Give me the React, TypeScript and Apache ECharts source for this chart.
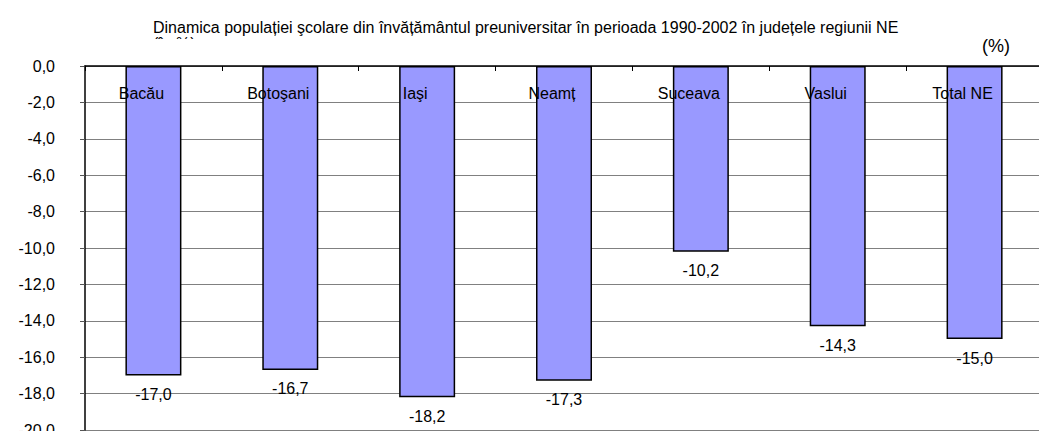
import React, { useEffect, useRef } from "react";
import * as echarts from "echarts";

const categories = ["Bacău", "Botoşani", "Iaşi", "Neamț", "Suceava", "Vaslui", "Total NE"];
const values = [-17.0, -16.7, -18.2, -17.3, -10.2, -14.3, -15.0];
const titleLine1 = "Dinamica populației şcolare din învățământul preuniversitar în perioada 1990-2002 în județele regiunii NE";
const titleLine2 = "(în %)";
const unitLabel = "(%)";

const FONT = 'Arial, "Liberation Sans", sans-serif';
const fmt = (v: number) => v.toFixed(1).replace(".", ",");

export default function App() {
  const ref = useRef<HTMLDivElement>(null);
  useEffect(() => {
    if (!ref.current) return;
    const chart = echarts.init(ref.current, null, { renderer: "svg" });
    chart.setOption({
      animation: false,
      backgroundColor: "#ffffff",
      textStyle: { fontFamily: FONT },
      grid: {
        left: 85,
        top: 66,
        width: 958,
        height: 364,
        containLabel: false,
        outerBoundsMode: "none",
      },
      xAxis: {
        type: "category",
        position: "top",
        data: categories,
        axisLine: { show: true, lineStyle: { color: "#000", width: 1.5 } },
        axisTick: { show: true, inside: true, length: 5, lineStyle: { color: "#000", width: 1 } },
        axisLabel: {
          inside: true,
          margin: 19,
          fontSize: 16,
          color: "#000",
          fontFamily: FONT,
          padding: [0, 24, 0, 0],
        },
        splitLine: { show: false },
        z: 10,
      },
      yAxis: {
        type: "value",
        min: -20,
        max: 0,
        interval: 2,
        axisLine: { show: true, lineStyle: { color: "#000", width: 1.5 } },
        axisTick: { show: true, inside: false, length: 5, lineStyle: { color: "#555", width: 1 } },
        axisLabel: {
          margin: 30,
          fontSize: 16,
          color: "#000",
          fontFamily: FONT,
          formatter: (v: number) => fmt(v),
        },
        splitLine: { show: true, lineStyle: { color: "#808080", width: 1 } },
      },
      series: [
        {
          type: "bar",
          data: values,
          barWidth: 56,
          itemStyle: { color: "#9999FF", borderColor: "#000", borderWidth: 1.5 },
          label: {
            show: true,
            position: "bottom",
            distance: 11,
            fontSize: 16,
            color: "#000",
            fontFamily: FONT,
            formatter: (p: any) => fmt(p.value),
          },
        },
      ],
      graphic: [
        {
          type: "text",
          left: 153,
          top: 19,
          z: 1,
          style: { text: titleLine1, fontSize: 16, fontFamily: FONT, fill: "#000" },
        },
        {
          type: "text",
          left: 153,
          top: 35,
          z: 1,
          style: { text: titleLine2, fontSize: 16, fontFamily: FONT, fill: "#000" },
        },
        {
          type: "rect",
          shape: { x: 140, y: 39, width: 780, height: 26 },
          z: 5,
          style: { fill: "#ffffff" },
        },
        {
          type: "text",
          left: 982,
          top: 37,
          z: 6,
          style: { text: unitLabel, fontSize: 18, fontFamily: FONT, fill: "#000" },
        },
      ],
    });
    return () => chart.dispose();
  }, []);
  return (
    <div
      ref={ref}
      style={{ position: "fixed", left: 0, top: 0, width: 1039, height: 431 }}
    />
  );
}
